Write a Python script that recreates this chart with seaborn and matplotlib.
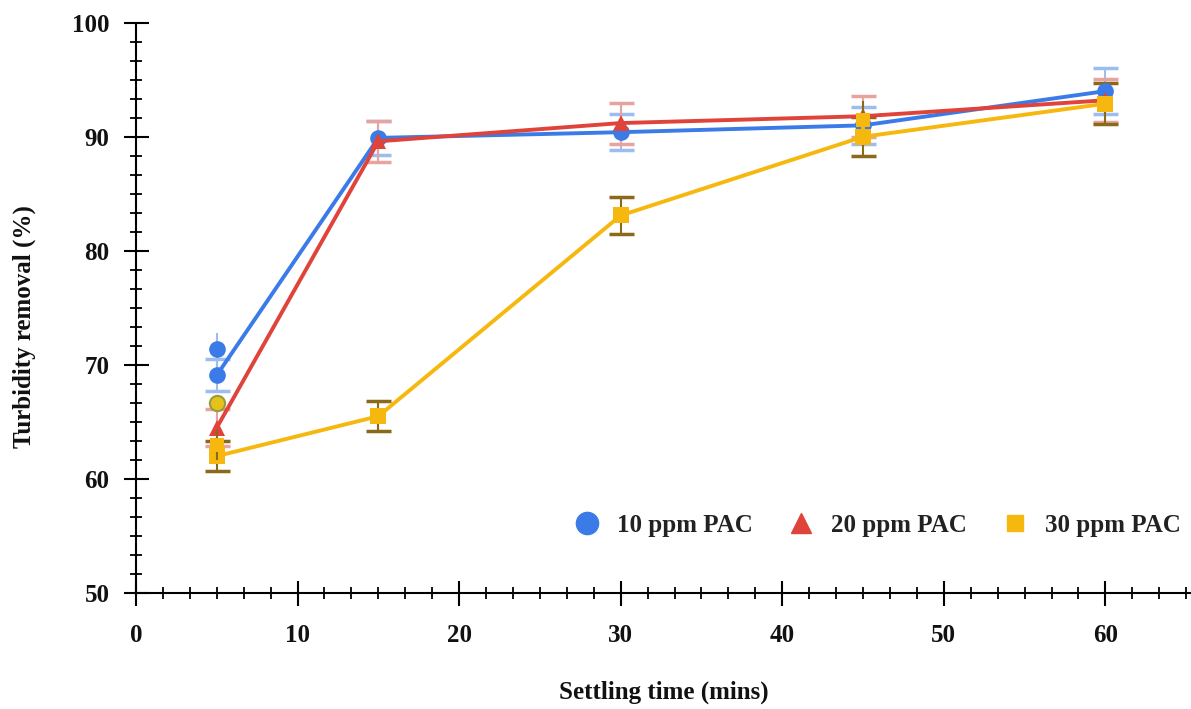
import matplotlib
matplotlib.use("Agg")
import matplotlib.pyplot as plt
import seaborn as sns
import pandas as pd
from matplotlib.ticker import MultipleLocator, AutoMinorLocator
from matplotlib.lines import Line2D

time = [5, 15, 30, 45, 60]
pac10 = [69.1, 89.9, 90.4, 91.0, 94.0]
pac10_err = [1.4, 1.5, 1.6, 1.6, 2.0]
pac20 = [64.5, 89.6, 91.2, 91.8, 93.2]
pac20_err = [1.6, 1.8, 1.8, 1.8, 1.9]
pac30 = [62.0, 65.5, 83.1, 90.0, 92.9]
pac30_err = [1.3, 1.3, 1.65, 1.7, 1.8]

# extra replicate markers
extra10_x, extra10_y, extra10_err = [5], [71.4], [1.4]
extra30_x, extra30_y, extra30_err = [5, 45], [63.0, 91.5], [1.3, 1.6]
extra_mix_x, extra_mix_y = [5], [66.7]

labels = ["10 ppm PAC", "20 ppm PAC", "30 ppm PAC"]
colors = ["#3b7be8", "#e0433a", "#f6b80f"]
err_colors = ["#9dbcf2", "#e7a3a0", "#8a6a1a"]

sns.set_theme(style="white")
plt.rcParams["font.family"] = ["Liberation Serif", "DejaVu Serif"]
plt.rcParams["font.weight"] = "bold"

fig = plt.figure(figsize=(11.91, 7.09), dpi=100)
ax = fig.add_axes([0.1142, 0.1636, 0.8858, 0.8044])

df = pd.DataFrame({
    "time": time * 3,
    "removal": pac10 + pac20 + pac30,
    "err": pac10_err + pac20_err + pac30_err,
    "series": [labels[0]] * 5 + [labels[1]] * 5 + [labels[2]] * 5,
})

markers = {labels[0]: "o", labels[1]: "^", labels[2]: "s"}

for i, lab in enumerate(labels):
    sub = df[df["series"] == lab]
    ax.errorbar(sub["time"], sub["removal"], yerr=sub["err"], fmt="none",
                ecolor=err_colors[i], elinewidth=1.5, capsize=9, capthick=2.5, zorder=2)

sns.lineplot(data=df, x="time", y="removal", hue="series", palette=dict(zip(labels, colors)),
             style="series", markers=markers, dashes=False, ax=ax, linewidth=2.8,
             markersize=12, markeredgewidth=0, legend=False, zorder=3)

# extra replicate markers
ax.errorbar(extra10_x, extra10_y, yerr=extra10_err, fmt="o", color=colors[0], ms=12,
            ecolor=err_colors[0], elinewidth=1.5, capsize=9, capthick=2, zorder=3, mew=0)
ax.errorbar(extra30_x, extra30_y, yerr=extra30_err, fmt="s", color=colors[2], ms=10,
            ecolor=err_colors[2], elinewidth=1.5, capsize=9, capthick=2, zorder=3, mew=0)
ax.plot(extra_mix_x, extra_mix_y, "o", color="#e3c21a", mec="#9a9a40", mew=1.5, ms=11, zorder=3)
ax.plot([45, 45], [90.0, 91.5], color=colors[2], lw=2.8, zorder=3)

# legend
handles = [Line2D([], [], ls="none", marker="o", color=colors[0], ms=16),
           Line2D([], [], ls="none", marker="^", color=colors[1], ms=14),
           Line2D([], [], ls="none", marker="s", color=colors[2], ms=11)]
leg = ax.legend(handles, labels, loc="center right", bbox_to_anchor=(1.0, 0.119), ncol=3,
                frameon=False, prop={"family": "Liberation Serif", "weight": "bold", "size": 18},
                handlelength=1.2, handletextpad=0.6, columnspacing=1.32, borderaxespad=0)
for t in leg.get_texts():
    t.set_color("#222222")

ax.set_xlim(0, 65.3)
ax.set_ylim(50, 100)
ax.xaxis.set_major_locator(MultipleLocator(10))
ax.xaxis.set_minor_locator(AutoMinorLocator(6))
ax.yaxis.set_major_locator(MultipleLocator(10))
ax.yaxis.set_minor_locator(AutoMinorLocator(6))
ax.tick_params(which="major", direction="inout", length=18, width=1.5, colors="black",
               labelsize=18)
ax.tick_params(axis="x", which="major", pad=13)
ax.tick_params(axis="y", which="major", pad=10)
ax.tick_params(which="minor", direction="inout", length=9, width=1.3, colors="black")
ax.tick_params(axis="both", which="both", bottom=True, left=True)
for lbl in ax.get_xticklabels() + ax.get_yticklabels():
    lbl.set_fontweight("bold")
    lbl.set_color("#111111")

for s in ["top", "right"]:
    ax.spines[s].set_visible(False)
for s in ["left", "bottom"]:
    ax.spines[s].set_color("black")
    ax.spines[s].set_linewidth(1.5)

ax.set_xlabel("Settling time (mins)", fontsize=18, fontweight="bold", color="#111111")
ax.set_ylabel("Turbidity removal (%)", fontsize=18, fontweight="bold", color="#111111")
ax.xaxis.set_label_coords(0.5, -0.154)
ax.yaxis.set_label_coords(-0.095, 0.468)

fig.savefig("out.png", dpi=100)
